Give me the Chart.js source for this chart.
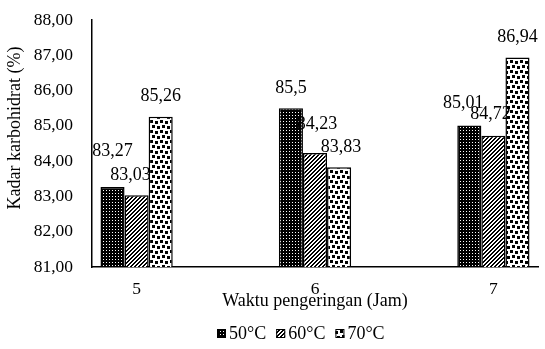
<!DOCTYPE html>
<html>
<head>
<meta charset="utf-8">
<script src="https://cdn.jsdelivr.net/npm/chart.js@4.4.0/dist/chart.umd.min.js"></script>
<style>
  html, body { margin: 0; padding: 0; background: #fff; }
  #c { display: block; }
</style>
</head>
<body>
<canvas id="c" width="545" height="349"></canvas>
<script>
// Drying time (hours) and carbohydrate content per drying temperature
const categories = [5, 6, 7];
const seriesNames = ['50°C', '60°C', '70°C'];
const values50 = [83.27, 85.5, 85.01];
const values60 = [83.03, 84.23, 84.72];
const values70 = [85.26, 83.83, 86.94];
const yTicks = [81, 82, 83, 84, 85, 86, 87, 88];
const xTitle = 'Waktu pengeringan (Jam)';
const yTitle = 'Kadar karbohidrat (%)';

const FONT = '"Liberation Serif", "Times New Roman", serif';
const FS = 18;        // titles, legend and value labels
const FS_TICK = 17.5; // axis tick labels

// ---- monochrome fill patterns ----
function makePattern(size, paint) {
  const tile = document.createElement('canvas');
  tile.width = size; tile.height = size;
  const g = tile.getContext('2d');
  paint(g, size);
  return document.createElement('canvas').getContext('2d').createPattern(tile, 'repeat');
}
// small grid: black with tiny white holes
const patGrid = makePattern(3, (g) => {
  g.fillStyle = '#000'; g.fillRect(0, 0, 3, 3);
  g.fillStyle = '#fff'; g.fillRect(1, 1, 1, 1);
});
// wide upward diagonal stripes
const patDiag = makePattern(4, (g, n) => {
  g.fillStyle = '#fff'; g.fillRect(0, 0, n, n);
  g.fillStyle = '#000';
  for (let y = 0; y < n; y++)
    for (let x = 0; x < n; x++)
      if ((x + y) % n < 2) g.fillRect(x, y, 1, 1);
});
// large confetti: scattered black squares on white
const patConfetti = makePattern(10, (g, n) => {
  g.fillStyle = '#fff'; g.fillRect(0, 0, n, n);
  g.fillStyle = '#000';
  [[0, 0], [5, 1], [2, 5], [7, 6]].forEach(([x, y]) => g.fillRect(x, y, 3, 3));
});
const patterns = [patGrid, patDiag, patConfetti];

const toPoints = vals => categories.map((x, i) => ({ x, y: vals[i] }));
const fmt = v => String(v).replace('.', ',');

const datasets = [values50, values60, values70].map((vals, d) => ({
  label: seriesNames[d],
  data: toPoints(vals),
  backgroundColor: patterns[d],
  borderColor: '#000',
  borderWidth: 1.5,
  borderSkipped: 'start'
}));

// value labels above each bar (a few are shifted to avoid overlapping)
const labelShift = {
  '0-0': [0, -16], '1-0': [-6, 0], '1-1': [2, -9], '2-1': [2, 0],
  '0-2': [-6, -2], '1-2': [-3, -1]
};
const valueLabels = {
  id: 'valueLabels',
  afterDatasetsDraw(chart) {
    const g = chart.ctx;
    g.save();
    g.font = `${FS}px ${FONT}`;
    g.fillStyle = '#000';
    g.textAlign = 'center';
    g.textBaseline = 'middle';
    chart.data.datasets.forEach((ds, d) => {
      chart.getDatasetMeta(d).data.forEach((bar, i) => {
        const [dx, dy] = labelShift[d + '-' + i] || [0, 0];
        g.fillText(fmt(ds.data[i].y), bar.x + dx, bar.y - 20 + dy);
      });
    });
    g.restore();
  }
};

// rotated y-axis title
const yAxisTitle = {
  id: 'yAxisTitle',
  afterDraw(chart) {
    const g = chart.ctx;
    g.save();
    g.font = `${FS}px ${FONT}`;
    g.fillStyle = '#000';
    g.textAlign = 'center';
    g.textBaseline = 'middle';
    g.translate(15, 128);
    g.rotate(-Math.PI / 2);
    g.fillText(yTitle, 0, 0);
    g.restore();
  }
};

// legend row under the axis title
const legendRow = {
  id: 'legendRow',
  afterDraw(chart) {
    const g = chart.ctx;
    g.save();
    g.font = `${FS}px ${FONT}`;
    const box = 9, gapBox = 3, gapItem = 10, cy = 334;
    const widths = seriesNames.map(s => box + gapBox + g.measureText(s).width);
    const total = widths.reduce((a, b) => a + b, 0) + gapItem * (seriesNames.length - 1);
    let x = Math.round(301 - total / 2);
    seriesNames.forEach((s, d) => {
      g.fillStyle = patterns[d];
      g.fillRect(x, cy - 5, box, box);
      g.strokeStyle = '#000';
      g.lineWidth = 1;
      g.strokeRect(x + 0.5, cy - 5 + 0.5, box - 1, box - 1);
      g.fillStyle = '#000';
      g.textAlign = 'left';
      g.textBaseline = 'middle';
      g.fillText(s, x + box + gapBox, cy);
      x += widths[d] + gapItem;
    });
    g.restore();
  }
};

new Chart(document.getElementById('c'), {
  type: 'bar',
  data: { datasets },
  options: {
    responsive: false,
    animation: false,
    devicePixelRatio: 1,
    layout: { padding: { top: 20, right: 7, left: 0, bottom: 31 } },
    plugins: { legend: { display: false }, tooltip: { enabled: false } },
    datasets: { bar: { categoryPercentage: 0.405, barPercentage: 1 } },
    scales: {
      x: {
        type: 'linear',
        min: 4.75,
        max: 7.25,
        offset: false,
        afterBuildTicks: s => { s.ticks = categories.map(v => ({ value: v })); },
        afterFit: s => { s.height = 51; s.paddingLeft = 0; s.paddingRight = 0; },
        grid: { display: false, drawTicks: false },
        border: { display: true, color: '#000', width: 1.5 },
        ticks: { color: '#000', font: { family: FONT, size: FS_TICK }, padding: 12, callback: v => String(v) },
        title: { display: true, text: xTitle, color: '#000', font: { family: FONT, size: FS }, padding: { top: 0, bottom: 6 } }
      },
      y: {
        min: 81,
        max: 88,
        afterBuildTicks: s => { s.ticks = yTicks.map(v => ({ value: v })); },
        afterFit: s => { s.width = 92; s.paddingTop = 0; s.paddingBottom = 0; },
        grid: { display: false, drawTicks: false },
        border: { display: true, color: '#000', width: 1.5 },
        ticks: { color: '#000', font: { family: FONT, size: FS_TICK }, padding: 19, callback: v => v.toFixed(2).replace('.', ',') }
      }
    }
  },
  plugins: [valueLabels, yAxisTitle, legendRow]
});
</script>
</body>
</html>
